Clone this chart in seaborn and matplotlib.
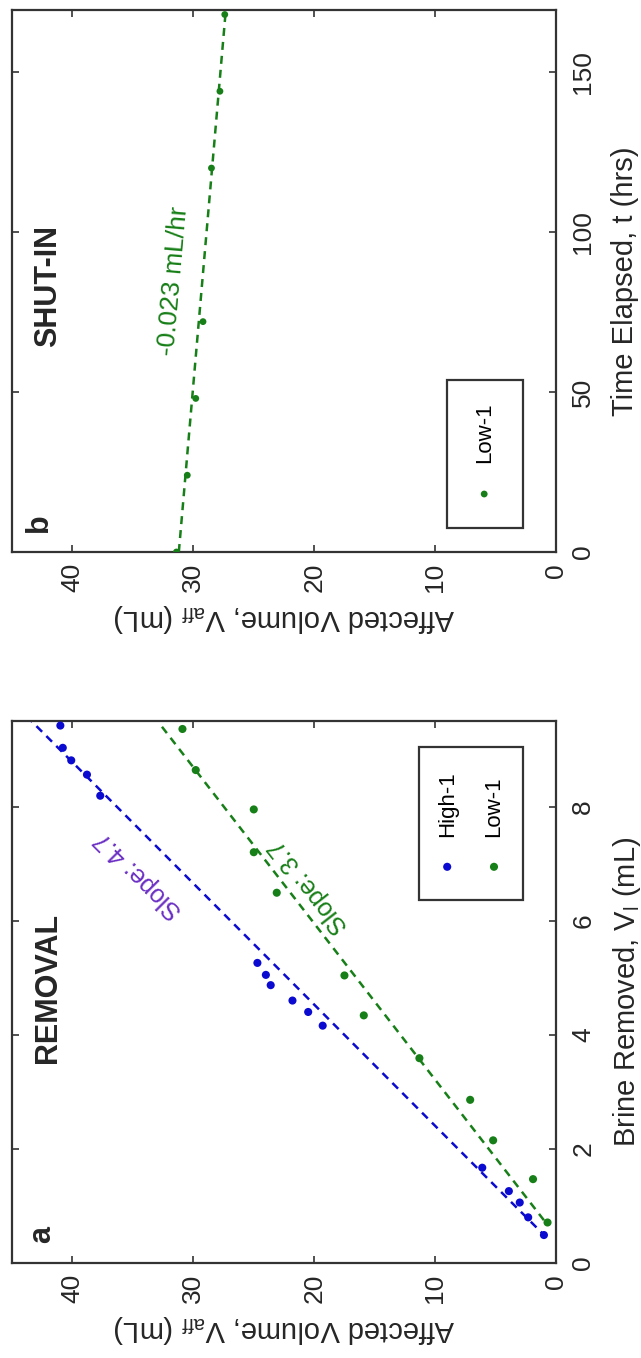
import matplotlib
matplotlib.use("Agg")
import matplotlib.pyplot as plt
from matplotlib.patches import Rectangle
import seaborn as sns

# Values. The figure is a landscape plot turned on its side,
# so affected volume runs horizontally (0 at the right) and brine / time vertically.
high_brine = [0.49, 0.80, 1.06, 1.26, 1.67, 4.16, 4.40, 4.60, 4.87, 5.05, 5.26, 8.19, 8.56, 8.81, 9.03, 9.42]
high_vaff = [1.0, 2.3, 3.0, 3.9, 6.1, 19.3, 20.5, 21.8, 23.6, 24.0, 24.7, 37.7, 38.8, 40.1, 40.8, 41.0]
low_brine = [0.71, 1.47, 2.15, 2.86, 3.59, 4.34, 5.04, 6.49, 7.20, 7.95, 8.64, 9.36]
low_vaff = [0.7, 1.9, 5.2, 7.1, 11.3, 15.9, 17.5, 23.1, 25.0, 25.0, 29.8, 30.9]

# fitted lines (end points)
high_fit_brine = [0.45, 9.5]
high_fit_vaff = [0.8, 43.4]
low_fit_brine = [0.75, 9.4]
low_fit_vaff = [1.0, 32.6]

shut_hours = [0, 24, 48, 72, 120, 144, 168]
shut_vaff = [31.4, 30.5, 29.8, 29.2, 28.5, 27.8, 27.4]
shut_fit_hours = [0, 170]
shut_fit_vaff = [31.2, 27.3]

vaff_ticks = [0, 10, 20, 30, 40]
brine_ticks = [0, 2, 4, 6, 8]
hour_ticks = [0, 50, 100, 150]

BLUE = "#0a0ad0"
GREEN = "#177f17"
PURPLE = "#6a2ec4"
DARK = "#262626"

sns.set_style("white")
plt.rcParams["font.family"] = ["Liberation Sans", "DejaVu Sans"]
plt.rcParams["mathtext.default"] = "regular"

W, H = 641, 1358
fig = plt.figure(figsize=(W / 100, H / 100), dpi=100)
ax_a = fig.add_axes([12 / W, (H - 1263) / H, 544 / W, 542 / H])
ax_b = fig.add_axes([12 / W, (H - 552) / H, 544 / W, 542 / H])


def style_axes(ax, ylim, yticks, ylabel):
    ax.set_xlim(45, 0)
    ax.set_ylim(*ylim)
    ax.set_xticks(vaff_ticks)
    ax.set_yticks(yticks)
    ax.tick_params(direction="in", length=5, width=1.2, colors="#333333",
                   labelcolor=DARK, labelsize=19,
                   top=True, bottom=True, left=True, right=True,
                   labelleft=False, labelright=True)
    ax.tick_params(axis="x", labelrotation=90, pad=8)
    ax.tick_params(axis="y", labelrotation=90, pad=11)
    for lbl in ax.get_yticklabels():
        lbl.set_va("center")
        lbl.set_ha("left")
    for s in ax.spines.values():
        s.set_color("#333333")
        s.set_linewidth(1.6)
    ax.set_xlabel("Affected Volume, V$_{aff}$ (mL)", rotation=180,
                  fontsize=21, color=DARK, labelpad=7)
    ax.yaxis.set_label_position("right")
    ax.set_ylabel(ylabel, rotation=90, fontsize=21, color=DARK, labelpad=11)


dash = (0, (3.2, 2.4))

# panel a: removal
sns.lineplot(x=high_fit_vaff, y=high_fit_brine, ax=ax_a, color=BLUE,
             linestyle=dash, linewidth=1.8, sort=False)
sns.lineplot(x=low_fit_vaff, y=low_fit_brine, ax=ax_a, color=GREEN,
             linestyle=dash, linewidth=1.8, sort=False)
sns.scatterplot(x=high_vaff, y=high_brine, ax=ax_a, color=BLUE, s=34,
                edgecolor="none", zorder=3)
sns.scatterplot(x=low_vaff, y=low_brine, ax=ax_a, color=GREEN, s=34,
                edgecolor="none", zorder=3)
style_axes(ax_a, (0, 9.5), brine_ticks, "Brine Removed, V$_{l}$ (mL)")

ax_a.text(34.5, 6.8, "Slope: 4.7", rotation=135, ha="center", va="center",
          color=PURPLE, fontsize=18, rotation_mode="anchor")
ax_a.text(20.4, 6.6, "Slope: 3.7", rotation=128, ha="center", va="center",
          color=GREEN, fontsize=18, rotation_mode="anchor")
ax_a.text(0.055, 0.052, "a", transform=ax_a.transAxes, rotation=90,
          ha="center", va="center", fontsize=22, fontweight="bold")
ax_a.text(0.066, 0.507, "REMOVAL", transform=ax_a.transAxes, rotation=90,
          ha="center", va="center", fontsize=22, fontweight="bold")

# legend a (drawn turned on its side)
ax_a.add_patch(Rectangle((0.748, 0.670), 0.191, 0.282, transform=ax_a.transAxes,
                         fill=False, edgecolor="#333333", linewidth=1.6, zorder=4))
ax_a.scatter([0.800], [0.731], s=34, color=BLUE, edgecolor="none",
             transform=ax_a.transAxes, zorder=5)
ax_a.scatter([0.886], [0.731], s=34, color=GREEN, edgecolor="none",
             transform=ax_a.transAxes, zorder=5)
ax_a.text(0.800, 0.786, "High-1", transform=ax_a.transAxes, rotation=90,
          ha="center", va="bottom", fontsize=16, color="black")
ax_a.text(0.886, 0.786, "Low-1", transform=ax_a.transAxes, rotation=90,
          ha="center", va="bottom", fontsize=16, color="black")

# panel b: shut-in
sns.lineplot(x=shut_fit_vaff, y=shut_fit_hours, ax=ax_b, color=GREEN,
             linestyle=dash, linewidth=1.8, sort=False)
sns.scatterplot(x=shut_vaff, y=shut_hours, ax=ax_b, color=GREEN, s=24,
                edgecolor="none", zorder=3)
style_axes(ax_b, (0, 169.4), hour_ticks, "Time Elapsed, t (hrs)")

ax_b.text(31.6, 84.7, "-0.023 mL/hr", rotation=85, ha="center", va="center",
          color=GREEN, fontsize=19, rotation_mode="anchor")
ax_b.text(0.05, 0.055, "b", transform=ax_b.transAxes, rotation=90,
          ha="center", va="center", fontsize=22, fontweight="bold")
ax_b.text(0.066, 0.49, "SHUT-IN", transform=ax_b.transAxes, rotation=90,
          ha="center", va="center", fontsize=22, fontweight="bold")

ax_b.add_patch(Rectangle((0.800, 0.044), 0.139, 0.273, transform=ax_b.transAxes,
                         fill=False, edgecolor="#333333", linewidth=1.6, zorder=4))
ax_b.scatter([0.868], [0.107], s=24, color=GREEN, edgecolor="none",
             transform=ax_b.transAxes, zorder=5)
ax_b.text(0.869, 0.164, "Low-1", transform=ax_b.transAxes, rotation=90,
          ha="center", va="bottom", fontsize=16, color="black")

fig.savefig("out.png", dpi=100, facecolor="white")
